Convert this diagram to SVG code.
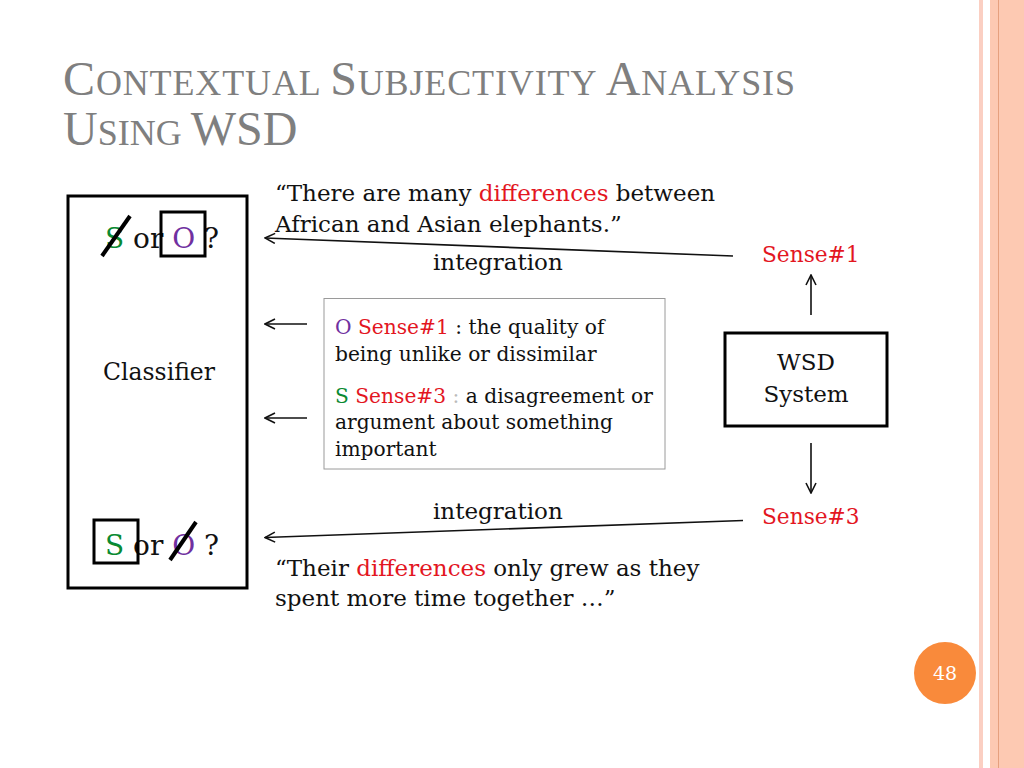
<svg xmlns="http://www.w3.org/2000/svg" width="1024" height="768" viewBox="0 0 1024 768">
<style>
.t{font-family:"DejaVu Serif","Liberation Serif",serif;fill:#111}
.title{font-family:"Liberation Serif","DejaVu Serif",serif;fill:#7f7f7f}
.red{fill:#e3161f}
.grn{fill:#0a8a32}
.pur{fill:#7030a0}
.box{fill:none;stroke:#000;stroke-width:3}
.conn{stroke:#111;stroke-width:1.6;fill:none}
</style>
<defs>
<marker id="ah" viewBox="0 0 12 12" refX="11" refY="6" markerWidth="12" markerHeight="12" markerUnits="userSpaceOnUse" orient="auto">
<path d="M1,1 L11,6 L1,11" fill="none" stroke="#111" stroke-width="1.6"/>
</marker>
</defs>
<rect width="1024" height="768" fill="#fff"/>
<g id="frame">
<rect x="979" y="0" width="4" height="768" fill="#fbcfc2"/>
<rect x="990" y="0" width="34" height="768" fill="#fdc9b2"/>
<rect x="998" y="0" width="1" height="768" fill="#e6a07e"/>
</g>
<g id="title">
<text class="title" x="63" y="95" font-size="48" textLength="732">C<tspan font-size="36">ONTEXTUAL </tspan>S<tspan font-size="36">UBJECTIVITY </tspan>A<tspan font-size="36">NALYSIS</tspan></text>
<text class="title" x="63" y="145" font-size="48">U<tspan font-size="36">SING </tspan>WSD</text>
</g>
<g id="classifier">
<rect class="box" x="68" y="196" width="179" height="392"/>
<text class="t" x="103" y="380" font-size="23.5">Classifier</text>
</g>
<g id="top-choice">
<text class="t" x="105" y="248" font-size="28"><tspan class="grn">S</tspan> or <tspan class="pur">O</tspan> ?</text>
<line x1="102" y1="256" x2="130" y2="216" stroke="#000" stroke-width="4"/>
<rect class="box" x="161" y="212" width="44" height="44"/>
</g>
<g id="bottom-choice">
<text class="t" x="105" y="555" font-size="28"><tspan class="grn">S</tspan> or <tspan class="pur">O</tspan> ?</text>
<rect class="box" x="94" y="520" width="44" height="43"/>
<line x1="170" y1="560" x2="196" y2="522" stroke="#000" stroke-width="4"/>
</g>
<g id="quote-top">
<text class="t" x="275" y="201" font-size="23">“There are many <tspan class="red">differences</tspan> between</text>
<text class="t" x="275" y="232" font-size="23">African and Asian elephants.”</text>
</g>
<g id="quote-bottom">
<text class="t" x="275" y="576" font-size="23">“Their <tspan class="red">differences</tspan> only grew as they</text>
<text class="t" x="275" y="606" font-size="23">spent more time together …”</text>
</g>
<g id="definitions">
<rect x="324" y="298.5" width="341" height="170.5" fill="#fff" stroke="#9a9a9a" stroke-width="1"/>
<text class="t" x="335" y="334" font-size="20.2"><tspan class="pur">O</tspan> <tspan class="red">Sense#1</tspan> : the quality of</text>
<text class="t" x="335" y="361" font-size="20.2">being unlike or dissimilar</text>
<text class="t" x="335" y="403" font-size="20.2"><tspan class="grn">S</tspan> <tspan class="red">Sense#3</tspan> <tspan fill="#bbbbbb">:</tspan> a disagreement or</text>
<text class="t" x="335" y="429" font-size="20.2">argument about something</text>
<text class="t" x="335" y="456" font-size="20.2">important</text>
</g>
<g id="wsd">
<rect class="box" x="725" y="333" width="162" height="93"/>
<text class="t" x="806" y="370" font-size="23" text-anchor="middle">WSD</text>
<text class="t" x="806" y="402" font-size="23" text-anchor="middle">System</text>
</g>
<g id="sense1"><text class="t red" x="762" y="262" font-size="21.7">Sense#1</text></g>
<g id="sense3"><text class="t red" x="762" y="524" font-size="21.7">Sense#3</text></g>
<g id="connectors">
<line class="conn" x1="733" y1="256" x2="265" y2="238" marker-end="url(#ah)"/>
<text class="t" x="433" y="270" font-size="23">integration</text>
<line class="conn" x1="743" y1="520.5" x2="265" y2="537.5" marker-end="url(#ah)"/>
<text class="t" x="433" y="519" font-size="23">integration</text>
<line class="conn" x1="307" y1="324" x2="265" y2="324" marker-end="url(#ah)"/>
<line class="conn" x1="307" y1="418" x2="265" y2="418" marker-end="url(#ah)"/>
<line class="conn" x1="811" y1="315" x2="811" y2="275" marker-end="url(#ah)"/>
<line class="conn" x1="811" y1="443" x2="811" y2="493" marker-end="url(#ah)"/>
</g>
<g id="page-number">
<circle cx="945" cy="673" r="31" fill="#f98a3b"/>
<text x="945" y="680" font-size="19" text-anchor="middle" fill="#fff" font-family="DejaVu Serif, serif">48</text>
</g>
</svg>
